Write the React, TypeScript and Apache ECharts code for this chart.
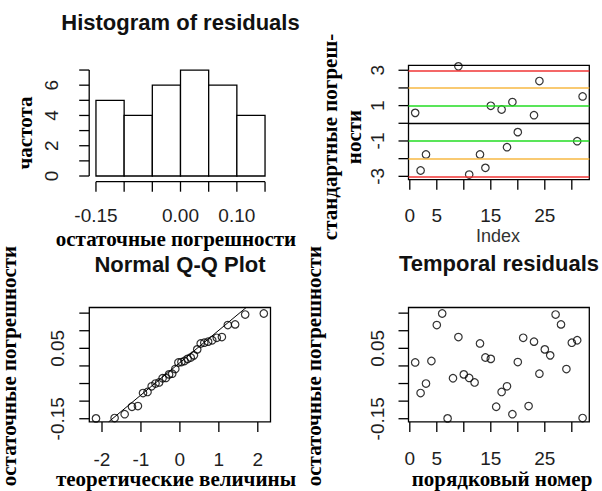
import React, { useEffect, useRef } from "react";
import * as echarts from "echarts";

// ---------- data ----------
const histBreaks = [-0.15, -0.1, -0.05, 0.0, 0.05, 0.1, 0.15];
const histCounts = [5, 4, 6, 7, 6, 4];
const histYTicks = [0, 1, 2, 3, 4, 5, 6, 7];
const histYLabels = [0, 2, 4, 6];
const histXTicks = [-0.15, -0.1, -0.05, 0.0, 0.05, 0.1, 0.15];
const histXLabels = [-0.15, 0.0, 0.1];

const stdIndex = [1, 2, 3, 9, 11, 13, 14, 15, 16, 17, 18, 19, 20, 23, 24, 31, 32];
const stdValues = [0.59, -2.67, -1.76, 3.22, -2.9, -1.76, -2.52, 0.99, 3.36, 0.78, -1.35, 1.2, -0.5, 0.46, 2.39, -1.01, 1.52];
const stdThresholds = [3, 2, 1, 0, -1, -2, -3];
const stdThresholdColors = ["#f03434", "#f7b843", "#22dd22", "#000000", "#22dd22", "#f7b843", "#f03434"];
const stdYTicks = [-3, -2, -1, 0, 1, 2, 3];
const stdYLabels = [-3, -1, 1, 3];

const indexTicks = [0, 5, 10, 15, 20, 25, 30];
const indexLabels = [0, 5, 15, 25];

const residuals = [
  0.01, -0.077, -0.05, 0.014, 0.116, 0.149, -0.149, -0.035, 0.082, -0.024, -0.034, -0.047, 0.064, 0.024, 0.02, -0.116,
  -0.074, -0.058, -0.137, 0.011, 0.08, -0.114, 0.069, -0.022, 0.047, 0.03, 0.146, 0.118, -0.009, 0.066, 0.073, -0.148,
];
const residIndex = [
  1, 2, 3, 4, 5, 6, 7, 8, 9, 10, 11, 12, 13, 14, 15, 16, 17, 18, 19, 20, 21, 22, 23, 24, 25, 26, 27, 28, 29, 30, 31, 32,
];
const residYTicks = [-0.15, -0.1, -0.05, 0.0, 0.05, 0.1, 0.15];
const residYLabels = [-0.15, 0.05];

const qqTheoretical = [
  -2.154, -1.676, -1.418, -1.23, -1.078, -0.947, -0.831, -0.725, -0.626, -0.534, -0.445, -0.36, -0.278, -0.197, -0.118,
  -0.039, 0.039, 0.118, 0.197, 0.278, 0.36, 0.445, 0.534, 0.626, 0.725, 0.831, 0.947, 1.078, 1.23, 1.418, 1.676, 2.154,
];
const qqSample = [
  -0.149, -0.148, -0.137, -0.116, -0.114, -0.077, -0.074, -0.058, -0.05, -0.047, -0.035, -0.034, -0.024, -0.022, -0.009,
  0.01, 0.011, 0.014, 0.02, 0.024, 0.03, 0.047, 0.064, 0.066, 0.069, 0.073, 0.08, 0.082, 0.116, 0.118, 0.146, 0.149,
];
const qqLineIntercept = 0.0094;
const qqLineSlope = 0.092;
const qqXTicks = [-2, -1, 0, 1, 2];

// axis limits per panel
const HIST_X = [-0.162, 0.162];
const HIST_Y = [-0.376, 7.28];
const STD_X = [-0.24, 33.24];
const STD_Y = [-3.19, 3.28];
const QQ_X = [-2.326, 2.326];
const RES_Y = [-0.159, 0.166];

// ---------- styling helpers ----------
const SANS = "Liberation Sans";
const SERIF = "Liberation Serif";
const TICK_COLOR = "#1e1e1e";
const TICK_LEN = 10;

function fmt2(v: number) {
  return (Math.abs(v) < 1e-9 ? 0 : v).toFixed(2);
}
function fmtInt(v: number) {
  return String(Math.round(v));
}

function valueAxis(opts: {
  gridIndex: number;
  lim: number[];
  labels: number[];
  formatter: (v: number) => string;
  margin: number;
  rotate?: number;
}) {
  return {
    type: "value",
    gridIndex: opts.gridIndex,
    min: opts.lim[0],
    max: opts.lim[1],
    axisLine: { show: false },
    splitLine: { show: false },
    axisTick: { show: false },
    axisLabel: {
      show: true,
      customValues: opts.labels,
      formatter: opts.formatter,
      color: TICK_COLOR,
      fontFamily: SANS,
      fontSize: 19,
      margin: opts.margin,
      rotate: opts.rotate || 0,
    },
  };
}

// tick marks drawn through the axis scales
function tickSeries(idx: number, dir: "x" | "y", values: number[], at: number) {
  return {
    type: "custom",
    xAxisIndex: idx,
    yAxisIndex: idx,
    silent: true,
    clip: false,
    data: values.map((v) => (dir === "x" ? [v, at] : [at, v])),
    encode: { x: 0, y: 1 },
    renderItem: (_p: any, api: any) => {
      const pt = api.coord([api.value(0), api.value(1)]);
      const shape =
        dir === "x"
          ? { x1: pt[0], y1: pt[1], x2: pt[0], y2: pt[1] + TICK_LEN }
          : { x1: pt[0], y1: pt[1], x2: pt[0] - TICK_LEN, y2: pt[1] };
      return { type: "line", shape, style: { stroke: "#000", lineWidth: 1.3 } };
    },
  };
}

function openCircles(idx: number, data: number[][]) {
  return {
    type: "scatter",
    xAxisIndex: idx,
    yAxisIndex: idx,
    data,
    symbol: "circle",
    symbolSize: 7.5,
    clip: true,
    silent: true,
    itemStyle: { color: "rgba(0,0,0,0)", borderColor: "#000", borderWidth: 1.2 },
  };
}

function textEl(text: string, x: number, y: number, font: string, rotation = 0, fill = "#000", lineHeight?: number) {
  const style: any = {
    text,
    font,
    fill,
    align: "center",
    verticalAlign: "middle",
    textAlign: "center",
    textVerticalAlign: "middle",
  };
  if (lineHeight) style.lineHeight = lineHeight;
  return { type: "text", x, y, rotation, silent: true, style };
}

// Q-Q reference line, limited to the panel's value box
const qqLineX0 = Math.max(QQ_X[0], (RES_Y[0] - qqLineIntercept) / qqLineSlope);
const qqLineX1 = Math.min(QQ_X[1], (RES_Y[1] - qqLineIntercept) / qqLineSlope);

export default function App() {
  const ref = useRef<HTMLDivElement>(null);

  useEffect(() => {
    if (!ref.current) return;
    const chart = echarts.init(ref.current, undefined, { renderer: "svg" });

    const boxGrid = { show: true, borderColor: "#000", borderWidth: 1.3 };

    const option: any = {
      animation: false,
      backgroundColor: "#fff",
      grid: [
        { left: 89.2, top: 65.8, width: 182.6, height: 115.9, show: false },
        { left: 408.5, top: 65.3, width: 180.8, height: 114.4, ...boxGrid },
        { left: 89.3, top: 307.5, width: 181.2, height: 114.4, ...boxGrid },
        { left: 408.5, top: 307.5, width: 180.8, height: 114.4, ...boxGrid },
      ],
      xAxis: [
        valueAxis({ gridIndex: 0, lim: HIST_X, labels: histXLabels, formatter: fmt2, margin: 24 }),
        valueAxis({ gridIndex: 1, lim: STD_X, labels: indexLabels, formatter: fmtInt, margin: 26 }),
        valueAxis({ gridIndex: 2, lim: QQ_X, labels: qqXTicks, formatter: fmtInt, margin: 28 }),
        valueAxis({ gridIndex: 3, lim: STD_X, labels: indexLabels, formatter: fmtInt, margin: 27 }),
      ],
      yAxis: [
        valueAxis({ gridIndex: 0, lim: HIST_Y, labels: histYLabels, formatter: fmtInt, margin: 28, rotate: 90 }),
        valueAxis({ gridIndex: 1, lim: STD_Y, labels: stdYLabels, formatter: fmtInt, margin: 22, rotate: 90 }),
        valueAxis({ gridIndex: 2, lim: RES_Y, labels: residYLabels, formatter: fmt2, margin: 22, rotate: 90 }),
        valueAxis({ gridIndex: 3, lim: RES_Y, labels: residYLabels, formatter: fmt2, margin: 22, rotate: 90 }),
      ],
      series: [
        // histogram bars
        {
          type: "custom",
          xAxisIndex: 0,
          yAxisIndex: 0,
          silent: true,
          clip: false,
          data: histCounts.map((c, i) => [histBreaks[i], histBreaks[i + 1], c]),
          encode: { x: [0, 1], y: 2 },
          renderItem: (_params: any, api: any) => {
            const p0 = api.coord([api.value(0), api.value(2)]);
            const p1 = api.coord([api.value(1), 0]);
            return {
              type: "rect",
              shape: { x: p0[0], y: p0[1], width: p1[0] - p0[0], height: p1[1] - p0[1] },
              style: { fill: "#fff", stroke: "#000", lineWidth: 1.3 },
            };
          },
        },
        // histogram axis lines (from first to last tick, R style)
        {
          type: "line",
          xAxisIndex: 0,
          yAxisIndex: 0,
          data: [
            [HIST_X[0], histYTicks[0]],
            [HIST_X[0], histYTicks[histYTicks.length - 1]],
          ],
          symbol: "none",
          clip: false,
          silent: true,
          lineStyle: { color: "#000", width: 1.3 },
        },
        {
          type: "line",
          xAxisIndex: 0,
          yAxisIndex: 0,
          data: [
            [histXTicks[0], HIST_Y[0]],
            [histXTicks[histXTicks.length - 1], HIST_Y[0]],
          ],
          symbol: "none",
          clip: false,
          silent: true,
          lineStyle: { color: "#000", width: 1.3 },
        },
        tickSeries(0, "x", histXTicks, HIST_Y[0]),
        tickSeries(0, "y", histYTicks, HIST_X[0]),
        tickSeries(1, "x", indexTicks, STD_Y[0]),
        tickSeries(1, "y", stdYTicks, STD_X[0]),
        tickSeries(2, "x", qqXTicks, RES_Y[0]),
        tickSeries(2, "y", residYTicks, QQ_X[0]),
        tickSeries(3, "x", indexTicks, RES_Y[0]),
        tickSeries(3, "y", residYTicks, STD_X[0]),
        // standardized residuals
        {
          ...openCircles(
            1,
            stdIndex.map((x, i) => [x, stdValues[i]])
          ),
          markLine: {
            silent: true,
            symbol: "none",
            label: { show: false },
            animation: false,
            data: stdThresholds.map((v, i) => ({
              yAxis: v,
              lineStyle: { color: stdThresholdColors[i], width: v === 0 ? 1.3 : 1.7, type: "solid" },
            })),
          },
        },
        // Q-Q plot
        openCircles(
          2,
          qqTheoretical.map((x, i) => [x, qqSample[i]])
        ),
        {
          type: "line",
          xAxisIndex: 2,
          yAxisIndex: 2,
          data: [
            [qqLineX0, qqLineIntercept + qqLineX0 * qqLineSlope],
            [qqLineX1, qqLineIntercept + qqLineX1 * qqLineSlope],
          ],
          symbol: "none",
          clip: true,
          silent: true,
          lineStyle: { color: "#000", width: 1 },
        },
        // temporal residuals
        openCircles(
          3,
          residIndex.map((x, i) => [x, residuals[i]])
        ),
      ],
      graphic: [
        textEl("Histogram of residuals", 180.5, 22, `bold 22px "${SANS}"`, 0, "#111"),
        textEl("Normal Q-Q Plot", 180, 264, `bold 22px "${SANS}"`, 0, "#111"),
        textEl("Temporal residuals", 499, 263, `bold 22px "${SANS}"`, 0, "#111"),
        textEl("остаточные погрешности", 176, 239, `bold 21px "${SERIF}"`),
        textEl("теоретические величины", 176, 479, `bold 21px "${SERIF}"`),
        textEl("порядковый номер", 502, 479, `bold 21px "${SERIF}"`),
        textEl("Index", 498, 236, `18px "${SANS}"`, 0, "#333"),
        textEl("частота", 25, 133, `bold 21px "${SERIF}"`, Math.PI / 2),
        textEl("стандартные погреш-\nности", 342, 137, `bold 21px "${SERIF}"`, Math.PI / 2, "#000", 24),
        textEl("остаточные погрешности", 9, 366, `bold 21px "${SERIF}"`, Math.PI / 2),
        textEl("остаточные погрешности", 313.5, 366, `bold 21px "${SERIF}"`, Math.PI / 2),
      ],
    };

    chart.setOption(option);
    return () => chart.dispose();
  }, []);

  return <div ref={ref} style={{ position: "fixed", left: 0, top: 0, width: 602, height: 491 }} />;
}
